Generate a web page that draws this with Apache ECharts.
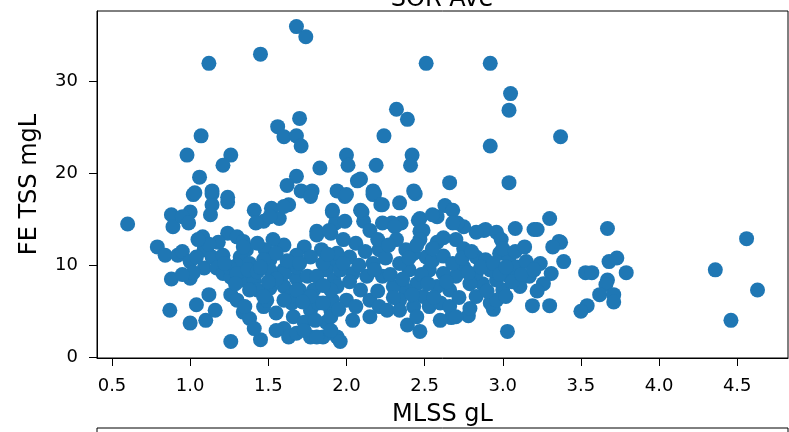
<!DOCTYPE html>
<html>
<head>
<meta charset="utf-8">
<script src="https://cdn.jsdelivr.net/npm/echarts@6/dist/echarts.min.js"></script>
<style>
  html, body { margin: 0; padding: 0; background: #fff; }
  #chart { width: 789px; height: 432px; }
</style>
</head>
<body>
<div id="chart"></div>
<script>
// MLSS (gL) and FE TSS (mgL)
var mlss = [
  0.60, 1.12, 1.45, 1.68, 1.74, 2.51, 1.07, 0.98, 1.26, 1.21, 1.06, 1.70, 1.56, 1.60, 1.68, 1.71,
  1.83, 2.00, 2.01, 2.19, 2.24, 2.32, 2.39, 2.42, 2.41, 2.09, 1.68, 1.62, 2.66, 2.92, 3.05, 3.04,
  3.37, 2.92, 3.04,
  3.67, 4.56, 4.36, 4.63, 4.46, 3.37, 3.39, 3.68, 3.73, 3.79, 3.53, 3.57, 3.67, 3.66, 3.62, 3.71,
  3.71, 3.54, 3.50, 3.30, 3.08, 3.20, 3.22, 3.36, 3.32, 3.19, 3.30, 3.03, 2.94, 2.78, 2.79, 2.67,
  2.60, 2.47, 2.39, 2.15, 2.04, 1.94, 1.96, 2.88, 2.89, 2.96, 2.99, 2.83, 2.75, 2.71, 2.63, 2.68,
  2.58, 2.47, 2.47, 2.34, 2.44, 2.23, 2.18, 1.99, 2.35, 2.29, 2.11, 2.10,
  0.87, 1.00, 1.26, 1.45, 0.88, 1.00, 0.79, 0.84, 0.92, 0.95, 1.04, 1.10, 1.12, 1.16, 0.88, 0.89,
  1.00, 0.95, 1.02, 1.14, 1.14, 1.13, 1.24, 1.08, 1.09, 1.09, 1.14, 1.17, 1.21, 1.24, 1.30, 1.34,
  1.36, 1.32, 1.30, 1.26, 1.34, 1.38, 1.41, 1.26, 1.30, 1.34, 1.38, 1.41, 1.47, 1.51, 1.49, 1.55,
  1.60, 1.63, 1.68, 1.77, 1.85, 1.66, 1.70, 1.65, 1.77, 1.82, 1.90, 1.87, 1.73, 1.81, 1.84, 1.90,
  1.87, 1.92, 1.91, 1.93, 1.73, 1.68, 1.60, 1.53, 1.48, 1.51, 1.60, 1.68, 1.75, 1.79, 1.60, 1.64,
  1.41, 1.47, 1.52, 1.57, 1.63, 1.42, 0.99, 1.00, 1.04, 1.21, 1.25, 1.30, 1.37, 1.43, 1.43, 1.81,
  1.90,
  1.03, 1.14, 1.24, 1.71, 1.78, 1.94, 2.00, 2.17, 2.43, 2.07,
  2.17, 2.22, 1.91, 1.99, 2.09, 2.15, 2.23, 2.31, 2.46, 2.49, 2.55, 2.68, 2.70, 2.75, 2.83, 2.89,
  2.98, 3.04, 3.09, 3.15, 3.24, 3.31, 3.26, 3.17, 3.11, 3.04, 3.00, 2.96, 2.92, 2.87, 2.83, 2.79,
  2.75, 2.70, 2.66, 2.62, 2.58, 2.53, 2.51, 2.47, 2.43, 2.40, 2.45, 2.49, 2.53, 2.60, 2.66, 2.70,
  2.83, 2.92, 2.96, 3.02, 2.38, 2.34, 2.30, 2.23, 2.34, 2.38, 2.32, 2.21, 2.17, 2.13, 2.09, 2.04,
  2.02, 2.06, 1.98, 1.94, 1.96, 1.94, 2.00, 2.06, 2.15, 2.21, 2.26, 2.34, 2.43, 2.45, 1.90, 1.91,
  1.89,
  1.55, 1.73, 1.81, 1.90, 1.60, 1.68, 1.77, 1.85, 1.90, 1.81, 1.85, 1.77, 1.68, 1.60, 1.51, 1.55,
  1.47, 1.43, 1.34, 1.38, 1.47, 1.77, 1.60, 1.51,
  1.55, 1.62, 1.70, 1.72, 1.80, 1.85, 1.95, 2.02, 2.08, 2.12, 2.18, 2.20, 2.25, 2.28, 2.30, 2.36,
  2.40, 2.42, 2.48, 2.52, 2.55, 2.56, 2.62, 2.64, 2.68, 2.72, 2.74, 2.78, 2.80, 2.86, 2.90, 2.94,
  2.98, 3.00, 3.02, 3.06, 3.08, 3.12, 3.14, 3.20, 3.22, 2.20, 2.27, 2.45, 2.58, 2.62, 2.55, 1.98,
  1.88, 1.45, 1.50, 1.35, 1.29, 1.22, 1.18, 1.12, 1.05, 1.02, 0.95
];
var tss = [
  14.5, 32.0, 33.0, 36.0, 34.9, 32.0, 24.1, 22.0, 22.0, 20.9, 19.6, 26.0, 25.1, 24.0, 24.1, 23.0,
  20.6, 22.0, 20.9, 20.9, 24.1, 27.0, 25.9, 22.0, 20.9, 19.4, 19.7, 18.7, 19.0, 32.0, 28.7, 26.9,
  24.0, 23.0, 19.0,
  14.0, 12.9, 9.5, 7.3, 4.0, 12.5, 10.4, 10.4, 10.8, 9.2, 9.2, 9.2, 8.4, 7.9, 6.8, 6.8,
  6.0, 5.6, 5.0, 15.1, 14.0, 13.9, 13.9, 12.6, 12.0, 5.6, 5.6, 2.8, 5.2, 4.5, 5.3, 4.3,
  4.0, 2.8, 3.5, 4.4, 4.0, 2.2, 1.7, 13.8, 13.9, 13.6, 12.8, 13.6, 14.2, 14.6, 16.5, 16.0,
  15.3, 15.1, 13.7, 16.8, 17.8, 16.6, 17.8, 17.5, 14.6, 14.6, 14.8, 15.8,
  5.1, 3.7, 1.7, 1.9, 8.5, 8.6, 12.0, 11.1, 11.1, 11.5, 5.7, 4.0, 6.8, 5.1, 15.5, 14.2,
  15.8, 15.3, 17.7, 17.8, 16.6, 15.5, 16.9, 13.1, 11.7, 9.7, 10.9, 9.7, 9.1, 13.5, 13.1, 12.6,
  11.7, 10.9, 10.0, 8.7, 8.4, 10.2, 8.4, 6.8, 6.2, 4.9, 4.2, 3.1, 5.5, 7.5, 6.2, 4.8,
  3.1, 2.2, 2.6, 2.2, 2.2, 4.4, 7.3, 5.9, 5.1, 5.9, 5.1, 3.8, 3.8, 13.7, 11.7, 10.4,
  9.5, 8.4, 15.8, 14.6, 12.0, 11.1, 12.2, 12.8, 11.7, 10.6, 9.5, 8.6, 8.8, 7.3, 7.7, 6.6,
  16.0, 14.8, 16.2, 15.1, 16.6, 14.6, 14.6, 10.4, 10.9, 11.1, 9.8, 9.1, 9.5, 9.3, 7.3, 13.3,
  13.5,
  17.9, 18.1, 17.4, 18.1, 18.1, 18.1, 17.7, 18.1, 18.1, 19.2,
  17.7, 16.6, 16.0, 14.8, 16.0, 13.8, 14.6, 14.2, 14.9, 13.8, 15.5, 14.6, 12.8, 11.8, 10.9, 10.6,
  11.3, 10.9, 9.8, 10.4, 10.2, 9.1, 8.0, 8.8, 7.7, 8.8, 7.3, 8.4, 9.5, 8.0, 9.1, 8.0,
  9.8, 8.8, 7.3, 9.1, 7.7, 9.5, 10.9, 12.8, 11.3, 9.5, 8.0, 6.6, 5.5, 5.9, 5.5, 4.4,
  6.6, 5.9, 6.2, 6.6, 7.3, 6.2, 7.7, 8.8, 10.2, 11.7, 12.8, 11.7, 10.2, 8.8, 7.3, 9.1,
  10.9, 12.4, 12.8, 11.3, 9.5, 7.7, 6.2, 5.5, 6.2, 5.5, 5.1, 5.1, 5.5, 4.4, 4.4, 6.2,
  13.8,
  2.9, 2.9, 2.2, 2.9, 6.2, 7.3, 6.6, 5.9, 7.3, 8.8, 10.2, 10.9, 9.8, 9.1, 9.5, 11.3,
  10.6, 12.4, 12.0, 7.3, 6.6, 17.5, 16.4, 15.3,
  8.5, 10.5, 10.2, 6.0, 4.0, 7.8, 5.2, 8.2, 10.0, 11.5, 9.5, 7.2, 10.8, 9.0, 6.5, 8.5,
  10.8, 6.8, 9.0, 8.0, 10.5, 6.5, 11.0, 8.2, 10.2, 6.5, 10.8, 9.2, 11.5, 9.8, 7.2, 10.2,
  9.0, 11.8, 9.8, 8.2, 11.5, 9.0, 12.0, 9.5, 7.2, 12.8, 12.2, 12.2, 12.5, 13.0, 11.8, 10.2,
  11.2, 9.8, 8.2, 5.5, 8.0, 10.2, 12.5, 12.3, 12.8, 9.2, 9.0
];
var xTicks = [0.5, 1.0, 1.5, 2.0, 2.5, 3.0, 3.5, 4.0, 4.5];
var yTicks = [0, 10, 20, 30];

var points = mlss.map(function (x, i) { return [x, tss[i]]; });

var font = 'DejaVu Sans';
var chart = echarts.init(document.getElementById('chart'), null, { renderer: 'canvas' });

chart.setOption({
  animation: false,
  backgroundColor: '#fff',
  grid: {
    left: 97, right: 1, top: 11, bottom: 74,
    show: true, borderColor: '#000', borderWidth: 1
  },
  xAxis: {
    type: 'value',
    min: 0.404, max: 4.825,
    name: 'MLSS gL',
    nameLocation: 'middle',
    nameGap: 45,
    nameTextStyle: { fontFamily: font, fontSize: 24, color: '#000' },
    axisLine: { show: true, onZero: false, lineStyle: { color: '#000', width: 1 } },
    axisTick: { show: true, length: 8, lineStyle: { color: '#000' }, customValues: xTicks },
    axisLabel: {
      fontFamily: font, fontSize: 18, color: '#000', margin: 19,
      customValues: xTicks,
      formatter: function (v) { return v.toFixed(1); }
    },
    splitLine: { show: false }
  },
  yAxis: {
    type: 'value',
    min: -0.1, max: 37.7,
    name: 'FE TSS mgL',
    nameLocation: 'middle',
    nameGap: 55,
    nameTextStyle: { fontFamily: font, fontSize: 24, color: '#000' },
    axisLine: { show: true, onZero: false, lineStyle: { color: '#000', width: 1 } },
    axisTick: { show: true, length: 8, lineStyle: { color: '#000' }, customValues: yTicks },
    axisLabel: {
      fontFamily: font, fontSize: 18, color: '#000', margin: 19,
      customValues: yTicks
    },
    splitLine: { show: false }
  },
  graphic: [
    {
      type: 'text', x: 442, y: 12,
      style: { text: 'SOR Ave', fontFamily: font, fontSize: 24, fill: '#000', align: 'center', verticalAlign: 'bottom' }
    },
    {
      type: 'rect', shape: { x: 97, y: 428, width: 691, height: 40 },
      style: { fill: null, stroke: '#000', lineWidth: 1 }
    }
  ],
  series: [{
    type: 'scatter',
    data: points,
    symbolSize: 15,
    itemStyle: { color: '#1f77b4', opacity: 1 }
  }]
});
</script>
</body>
</html>
